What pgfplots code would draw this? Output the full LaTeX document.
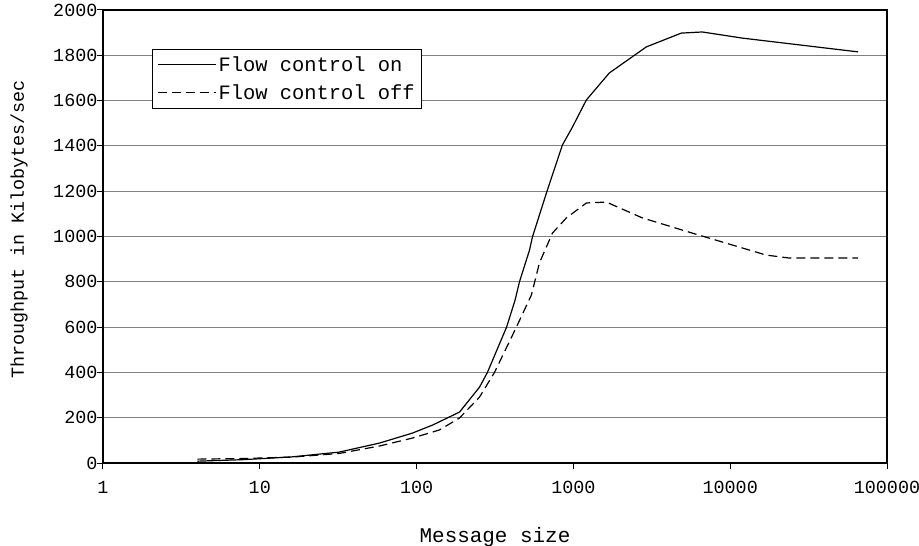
\documentclass[border=0pt]{standalone}
\usepackage{fontspec}
\setmainfont{Liberation Mono}
\usepackage{pgfplots}
\pgfplotsset{compat=1.18}
\begin{document}
\begin{tikzpicture}
\path[use as bounding box] (-103bp,-83bp) rectangle (816bp,463bp);
\begin{axis}[
  scale only axis, width=784bp, height=453bp,
  at={(0,0)}, anchor=south west,
  xmode=log, log basis x=10,
  xmin=1, xmax=100000, ymin=0, ymax=2000,
  xtick={1,10,100,1000,10000,100000},
  xticklabels={1,10,100,1000,10000,100000},
  xminorticks=false,
  ytick={0,200,...,2000},
  yticklabels={0,200,400,600,800,1000,1200,1400,1600,1800,2000},
  tick align=outside, tick pos=left,
  major tick length=6bp,
  ymajorgrids, grid style={gray, line width=0.9bp},
  tick style={black, line width=1bp},
  axis line style={black, line width=1.3bp},
  font=\fontsize{18.5}{22}\selectfont,
  xticklabel style={yshift=-9bp},
  yticklabel style={xshift=4bp},
  xlabel={Message size},
  ylabel={Throughput in Kilobytes/sec},
  xlabel style={at={(axis description cs:0.5,-0.1634)}, anchor=center, font=\fontsize{21}{22}\selectfont},
  ylabel style={at={(axis description cs:-0.107,0.516)}, anchor=center},
  legend cell align=left,
  legend image code/.code={\draw[#1] (0bp,0bp) -- (58bp,0bp);},
  legend style={at={(axis description cs:0.0625,0.914)}, anchor=north west,
    draw=black, line width=0.8bp, fill=white, font=\fontsize{20.5}{22}\selectfont,
    inner xsep=5bp, inner ysep=5bp, row sep=8bp},
]
\addplot[black, line width=1.2bp] coordinates {
(4,8) (8,15) (16,27) (32,48) (58,88) (94,132) (127,168) (188,225) (252,335)
(283,400) (375,600) (425,720) (453,800) (525,940) (548,998) (673,1192)
(851,1404) (986,1483) (1210,1603) (1695,1722) (2917,1837) (4875,1898)
(6640,1903) (11920,1876) (65536,1815)};
\addlegendentry{Flow control on}
\addplot[black, line width=1.2bp, dash pattern=on 9bp off 5bp] coordinates {
(4,17) (8,20) (16,26) (32,42) (58,75) (94,110) (140,146) (188,199) (252,291)
(314,400) (433,600) (540,742) (607,883) (735,1015) (902,1082) (1210,1148)
(1622,1152) (2754,1082) (5730,1015) (16960,918) (23770,905) (65536,905)};
\addlegendentry{Flow control off}
\end{axis}
\end{tikzpicture}
\end{document}
